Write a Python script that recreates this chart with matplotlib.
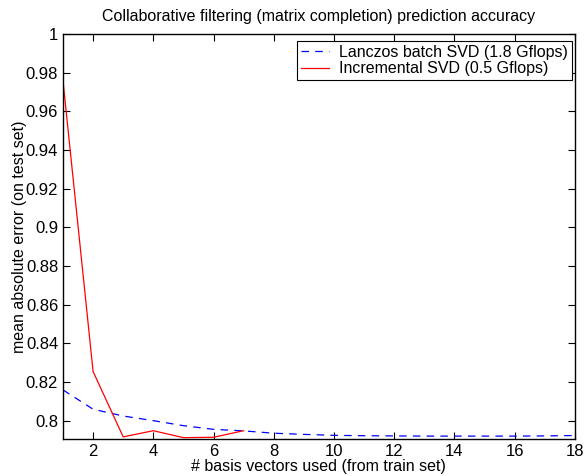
import matplotlib
matplotlib.use('Agg')
import matplotlib.pyplot as plt
import numpy as np
from matplotlib.ticker import FuncFormatter

plt.rcParams['font.family'] = ['Liberation Sans', 'DejaVu Sans']
plt.rcParams['font.size'] = 11.5

# basis vectors used
k_batch = np.arange(1, 19)
mae_batch = [0.8159, 0.8059, 0.8024, 0.8000, 0.7974, 0.7955, 0.7947, 0.7935, 0.7929,
             0.7924, 0.7922, 0.7921, 0.7920, 0.7920, 0.7920, 0.7920, 0.7921, 0.7923]
k_incr = np.arange(1, 8)
mae_incr = [0.9758, 0.8254, 0.7916, 0.7948, 0.7912, 0.7914, 0.7948]

fig = plt.figure(figsize=(5.86, 4.76), dpi=100)
ax = fig.add_axes([0.1075, 0.0777, 0.8735, 0.8509])

ax.plot(k_batch, mae_batch, '--', color='b', lw=0.9, dashes=(6, 5),
        label='Lanczos batch SVD (1.8 Gflops)')
ax.plot(k_incr, mae_incr, '-', color='r', lw=0.9,
        label='Incremental SVD (0.5 Gflops)')

ax.set_xlim(1, 18)
ax.set_ylim(0.7905, 1)
ax.set_xticks(np.arange(2, 19, 2))
ax.set_yticks(np.arange(0.8, 1.001, 0.02))
ax.yaxis.set_major_formatter(FuncFormatter(lambda v, p: '%g' % round(v, 2)))
ax.tick_params(direction='in', top=True, right=True, length=5, width=0.8, labelsize=12)
for s in ax.spines.values():
    s.set_linewidth(1.0)

ax.set_title('Collaborative filtering (matrix completion) prediction accuracy', fontsize=11.5, pad=9)
ax.set_xlabel('# basis vectors used (from train set)', fontsize=11.5, labelpad=0)
ax.set_ylabel('mean absolute error (on test set)', fontsize=11.5, labelpad=-1)

leg = ax.legend(loc='upper right', bbox_to_anchor=(0.994, 0.983), fancybox=False,
                edgecolor='black', framealpha=1, borderaxespad=0, handlelength=1.8,
                handletextpad=0.6, borderpad=0.25, labelspacing=0.1, fontsize=11.5)
leg.get_frame().set_linewidth(0.8)

fig.savefig('out.png', dpi=100)
